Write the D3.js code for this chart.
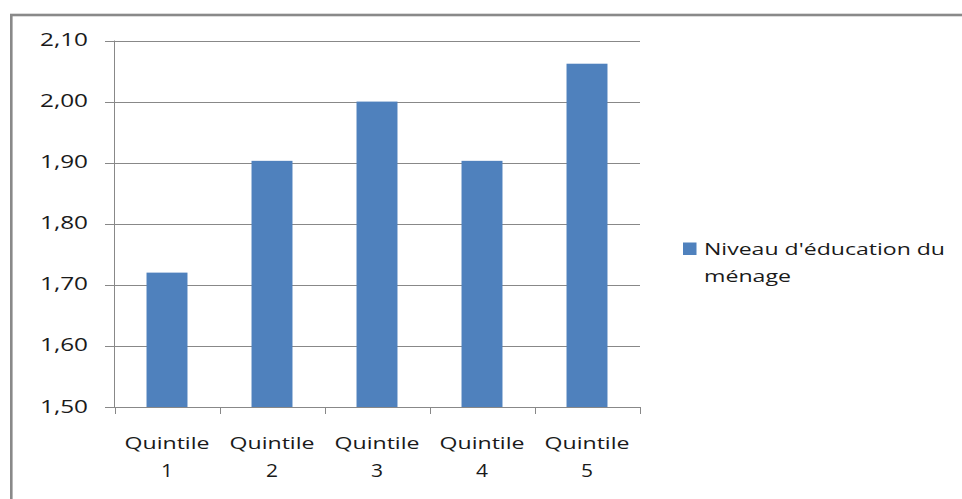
<!DOCTYPE html>
<html>
<head>
<meta charset="utf-8">
<script src="https://cdn.jsdelivr.net/npm/d3@7"></script>
<style>
html,body{margin:0;padding:0;background:#fff;}
svg{display:block;}
text{font-family:"Open Sans",sans-serif;fill:#1a1a1a;}
</style>
</head>
<body>
<svg id="chart" width="962" height="499"></svg>
<script>
const categories = [["Quintile","1"],["Quintile","2"],["Quintile","3"],["Quintile","4"],["Quintile","5"]];
const values = [1.72, 1.903, 2.00, 1.903, 2.062];
const yTicks = [1.50, 1.60, 1.70, 1.80, 1.90, 2.00, 2.10];
const seriesName = ["Niveau d'éducation du", "ménage"];

const svg = d3.select("#chart");
const color = "#4F81BD";
const gridColor = "#888888";

// outer border
svg.append("rect").attr("x", 11.3).attr("y", 15).attr("width", 1000).attr("height", 1000)
  .attr("fill", "none").attr("stroke", "#898989").attr("stroke-width", 2.6);

const x = d3.scaleBand().domain(categories.map((d,i)=>i)).range([114.5, 639.5])
  .paddingInner(0.61).paddingOuter(0.305);
const y = d3.scaleLinear().domain([1.5, 2.1]).range([407, 40.5]);

// gridlines
svg.append("g").selectAll("line").data(yTicks).join("line")
  .attr("x1", 105).attr("x2", 640)
  .attr("y1", d => Math.round(y(d)) + 0.5).attr("y2", d => Math.round(y(d)) + 0.5)
  .attr("stroke", gridColor).attr("stroke-width", 1);

// y axis line
svg.append("line").attr("x1", 114.5).attr("x2", 114.5).attr("y1", 40.5).attr("y2", 407.5)
  .attr("stroke", gridColor);

// x ticks
const step = x.step();
const xTickPos = d3.range(categories.length + 1).map(i => 114.5 + i * step);
svg.append("g").selectAll("line").data(xTickPos).join("line")
  .attr("x1", d => Math.round(d) + 0.5).attr("x2", d => Math.round(d) + 0.5)
  .attr("y1", 407).attr("y2", 414).attr("stroke", gridColor);

// bars
svg.append("g").selectAll("rect").data(values).join("rect")
  .attr("x", (d,i) => x(i)).attr("width", x.bandwidth())
  .attr("y", d => y(d)).attr("height", d => y(1.5) - y(d))
  .attr("fill", color);

// y labels
svg.append("g").selectAll("text").data(yTicks).join("text")
  .attr("x", 88).attr("y", d => y(d) + 5.5)
  .attr("text-anchor", "end").attr("font-size", 19)
  .attr("textLength", 48).attr("lengthAdjust", "spacingAndGlyphs")
  .text(d => d3.format(".2f")(d).replace(".", ","));

// x labels
const xl = svg.append("g").selectAll("g").data(categories).join("g")
  .attr("transform", (d,i) => `translate(${x(i) + x.bandwidth()/2},0)`);
xl.append("text").attr("x", 0).attr("y", 449).attr("text-anchor", "middle")
  .attr("font-size", 17).attr("textLength", 85).attr("lengthAdjust", "spacingAndGlyphs")
  .text(d => d[0]);
xl.append("text").attr("x", 0).attr("y", 477).attr("text-anchor", "middle")
  .attr("font-size", 18).attr("textLength", 12).attr("lengthAdjust", "spacingAndGlyphs")
  .text(d => d[1]);

// legend
svg.append("rect").attr("x", 683).attr("y", 242.5).attr("width", 13.5).attr("height", 12.5).attr("fill", color);
const lw = [241, 87];
svg.append("g").selectAll("text").data(seriesName).join("text")
  .attr("x", 704).attr("y", (d,i) => 255 + i * 27)
  .attr("font-size", 17).attr("textLength", (d,i) => lw[i]).attr("lengthAdjust", "spacingAndGlyphs")
  .text(d => d);
</script>
</body>
</html>
